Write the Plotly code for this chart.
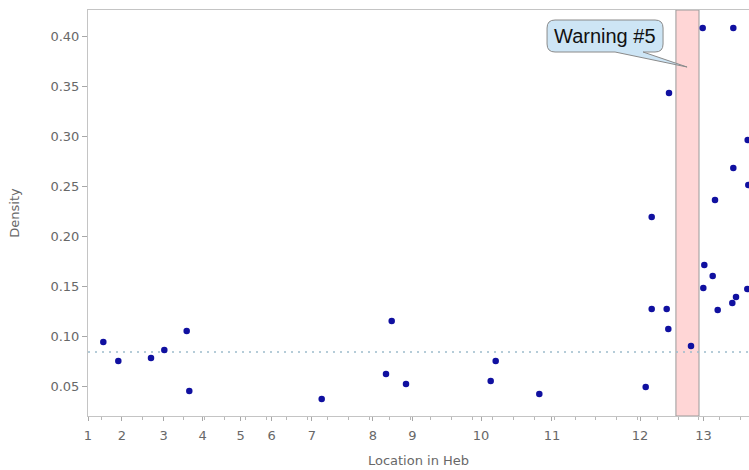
import plotly.graph_objects as go

# ---- data (x in axis position units along the Heb locus; y = density) ----
tick_positions = [0.0, 1.64, 3.67, 5.57, 7.41, 8.91, 10.87, 13.83, 15.75, 19.08, 22.52, 26.8, 29.88]
tick_labels = ["1", "2", "3", "4", "5", "6", "7", "8", "9", "10", "11", "12", "13"]

location = [0.743, 1.471, 3.058, 3.704, 4.791, 4.917, 11.345, 14.466, 14.743, 15.437,
            19.549, 19.791, 21.908, 27.073, 27.364, 27.364, 28.092, 28.170, 28.204,
            29.272, 29.840, 29.869, 29.917, 30.325, 30.437, 30.568, 31.277, 31.325,
            31.325, 31.456, 32.005, 32.024, 32.053]
density = [0.094, 0.075, 0.078, 0.086, 0.105, 0.045, 0.037, 0.062, 0.115, 0.052,
           0.055, 0.075, 0.042, 0.049, 0.219, 0.127, 0.127, 0.107, 0.343,
           0.090, 0.408, 0.148, 0.171, 0.160, 0.236, 0.126, 0.133, 0.268,
           0.408, 0.139, 0.147, 0.296, 0.251]

baseline_density = 0.084
warning_span = [28.54, 29.66]
warning_label = "Warning #5"
warning_anchor = [29.08, 0.369]

x_range = [0.0, 32.087]
y_range = [0.020, 0.426]

fig = go.Figure()

fig.add_trace(go.Scatter(
    x=location, y=density, mode="markers",
    marker=dict(color="#1010a0", size=6.5, line=dict(width=0)),
    showlegend=False,
))

# warning region
fig.add_shape(type="rect", xref="x", yref="paper",
              x0=warning_span[0], x1=warning_span[1], y0=0, y1=1,
              fillcolor="#ffd6d6", line=dict(color="#9a9a9a", width=1), layer="below")

# baseline
fig.add_shape(type="line", xref="paper", yref="y", x0=0, x1=1,
              y0=baseline_density, y1=baseline_density,
              line=dict(color="#9dbccc", width=1.5, dash="2px,5px"), layer="below")

# callout bubble (pixel offsets relative to the tail tip)
callout_path = ("M -132,47 L -32,47 Q -24,47 -24,39 L -24,23 Q -24,15 -32,15 "
                "L -44,15 L 0,0 L -72,15 L -132,15 Q -140,15 -140,23 L -140,39 "
                "Q -140,47 -132,47 Z")
fig.add_shape(type="path", xref="x", yref="y",
              xsizemode="pixel", ysizemode="pixel",
              xanchor=warning_anchor[0], yanchor=warning_anchor[1],
              path=callout_path, fillcolor="#cde5f5",
              line=dict(color="#8a8a8a", width=1), layer="above")

fig.add_annotation(x=warning_anchor[0], y=warning_anchor[1], xref="x", yref="y",
                   text=warning_label, showarrow=False,
                   xshift=-82, yshift=31,
                   font=dict(family="Liberation Sans", size=20, color="#111111"))

axis_font = dict(family="DejaVu Sans", size=13, color="#686868")

fig.update_layout(
    width=749, height=470,
    margin=dict(l=88, r=0, t=10, b=54),
    plot_bgcolor="white", paper_bgcolor="white",
    font=axis_font,
    xaxis=dict(
        range=x_range, tickmode="array", tickvals=tick_positions, ticktext=tick_labels,
        showgrid=False, zeroline=False, showline=True, linecolor="#c4c4c4", linewidth=1,
        mirror=True, ticks="outside", ticklen=4, tickcolor="#a8a8a8",
        tickfont=axis_font, ticklabelstandoff=3,
        minor=dict(tickmode="linear", tick0=1.65, dtick=1, ticks="outside",
                   ticklen=3, tickcolor="#b8b8b8", showgrid=False),
        title=dict(text="Location in Heb", font=axis_font, standoff=14),
    ),
    yaxis=dict(
        range=y_range, tickmode="array",
        tickvals=[0.05, 0.10, 0.15, 0.20, 0.25, 0.30, 0.35, 0.40],
        ticktext=["0.05", "0.10", "0.15", "0.20", "0.25", "0.30", "0.35", "0.40"],
        showgrid=False, zeroline=False, showline=True, linecolor="#c4c4c4", linewidth=1,
        ticks="outside", ticklen=5, tickcolor="#a8a8a8", tickfont=axis_font,
        title=dict(text="Density", font=axis_font, standoff=27),
    ),
)

fig.write_html("out.html")
